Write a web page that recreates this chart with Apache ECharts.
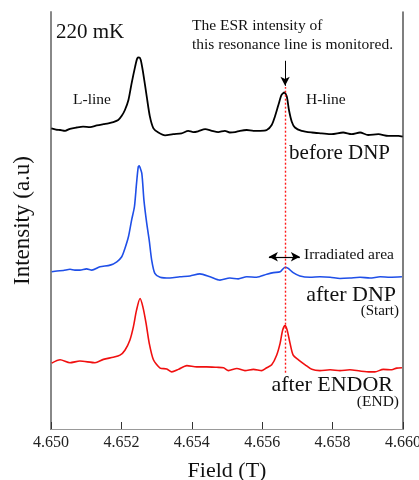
<!DOCTYPE html>
<html>
<head>
<meta charset="utf-8">
<script src="https://cdn.jsdelivr.net/npm/echarts@6/dist/echarts.min.js"></script>
<style>
  html, body { margin: 0; padding: 0; background: #fff; }
  #chart { width: 419px; height: 480px; }
</style>
</head>
<body>
<div id="chart"></div>
<script>
// field in tesla, intensity in arbitrary units
const blackField = [4.65001, 4.65014, 4.65026, 4.65040, 4.65054, 4.65073, 4.65091, 4.65111, 4.65130, 4.65149,
  4.65163, 4.65177, 4.65191, 4.65201, 4.65210, 4.65220, 4.65229, 4.65239, 4.65245, 4.65250,
  4.65255, 4.65262, 4.65272, 4.65281, 4.65291, 4.65305, 4.65324, 4.65347, 4.65371, 4.65390,
  4.65404, 4.65418, 4.65438, 4.65457, 4.65475, 4.65494, 4.65508, 4.65523, 4.65537, 4.65556,
  4.65575, 4.65594, 4.65613, 4.65627, 4.65636, 4.65646, 4.65655, 4.65663, 4.65670, 4.65676,
  4.65684, 4.65693, 4.65712, 4.65741, 4.65769, 4.65797, 4.65830, 4.65854, 4.65878, 4.65901,
  4.65930, 4.65958, 4.65987, 4.65999];
const blackInt = [72.1, 71.8, 71.7, 71.5, 72.0, 72.3, 72.5, 72.4, 72.8, 73.1,
  73.3, 73.6, 74.1, 75.1, 76.5, 78.9, 82.9, 86.9, 88.9, 89.1,
  88.5, 85.3, 79.7, 74.9, 72.1, 71.1, 70.4, 70.7, 70.9, 71.5,
  71.2, 71.4, 71.9, 71.5, 71.2, 71.5, 71.1, 71.2, 71.5, 71.7,
  71.5, 71.5, 71.7, 72.9, 74.9, 77.7, 80.1, 80.7, 79.7, 76.5,
  73.7, 72.3, 71.5, 71.1, 70.9, 70.7, 71.1, 70.7, 71.1, 70.5,
  70.7, 70.3, 70.3, 70.1];

const blueField = [4.65002, 4.65017, 4.65035, 4.65054, 4.65068, 4.65082, 4.65101, 4.65116, 4.65139, 4.65168,
  4.65187, 4.65201, 4.65210, 4.65220, 4.65229, 4.65237, 4.65243, 4.65248, 4.65251, 4.65253,
  4.65258, 4.65264, 4.65272, 4.65279, 4.65286, 4.65295, 4.65310, 4.65338, 4.65366, 4.65395,
  4.65423, 4.65452, 4.65480, 4.65508, 4.65532, 4.65556, 4.65584, 4.65613, 4.65632, 4.65651,
  4.65665, 4.65674, 4.65688, 4.65707, 4.65736, 4.65764, 4.65793, 4.65821, 4.65849, 4.65878,
  4.65906, 4.65935, 4.65963, 4.65997];
const blueInt = [37.7, 37.9, 38.0, 38.3, 38.1, 38.1, 38.4, 38.1, 38.9, 39.3,
  40.1, 41.3, 43.3, 46.1, 50.1, 53.3, 58.9, 62.9, 63.1, 63.1,
  61.3, 54.9, 49.3, 45.3, 40.5, 37.3, 36.4, 36.2, 36.5, 36.7,
  37.2, 36.5, 35.7, 36.2, 36.0, 36.5, 36.4, 37.1, 37.5, 37.7,
  38.8, 38.5, 37.5, 36.7, 36.4, 36.5, 36.4, 36.1, 36.2, 36.4,
  36.2, 36.5, 36.4, 36.5];

const redField = [4.65002, 4.65026, 4.65054, 4.65082, 4.65125, 4.65149, 4.65177, 4.65196, 4.65210, 4.65224,
  4.65234, 4.65243, 4.65253, 4.65261, 4.65270, 4.65279, 4.65291, 4.65310, 4.65329, 4.65343,
  4.65362, 4.65386, 4.65414, 4.65442, 4.65471, 4.65490, 4.65504, 4.65528, 4.65551, 4.65575,
  4.65599, 4.65613, 4.65627, 4.65641, 4.65651, 4.65658, 4.65665, 4.65671, 4.65679, 4.65688,
  4.65703, 4.65722, 4.65741, 4.65764, 4.65793, 4.65821, 4.65849, 4.65878, 4.65906, 4.65920,
  4.65944, 4.65968, 4.65982, 4.65997];
const redInt = [15.8, 16.6, 15.9, 16.3, 15.9, 16.7, 17.2, 17.7, 18.9, 21.3,
  24.5, 28.5, 31.3, 29.3, 25.4, 20.6, 16.6, 14.6, 14.4, 13.7,
  14.3, 15.2, 14.9, 14.9, 14.8, 14.7, 14.0, 14.5, 14.0, 14.3,
  14.0, 14.7, 15.4, 17.7, 20.6, 23.7, 24.8, 23.7, 20.6, 17.7,
  16.6, 15.4, 14.3, 14.0, 14.2, 14.0, 14.2, 13.9, 13.7, 13.7,
  14.3, 14.2, 14.6, 14.7];

// monitored H-line position and the irradiated window
const monitorField = 4.65665;
const monitorLine = [13.5, 82.0];
const monitorArrow = [88.3, 82.3];
const irradiated = [4.65619, 4.65707];
const irradiatedLevel = 41.3;

const serif = "'Liberation Serif', 'DejaVu Serif', serif";

function zip(xs, ys) {
  return xs.map((x, i) => [x, ys[i]]);
}

const chart = echarts.init(document.getElementById("chart"));

function trace(name, xs, ys, color, width) {
  return {
    name: name,
    type: "line",
    data: zip(xs, ys),
    showSymbol: false,
    smooth: 0.25,
    lineStyle: { color: color, width: width },
    silent: true
  };
}

function segment(p1, p2, color, type, symbols, width) {
  return {
    type: "line",
    data: [],
    silent: true,
    markLine: {
      silent: true,
      animation: false,
      symbol: symbols,
      symbolSize: [7, 9],
      label: { show: false },
      lineStyle: { color: color, opacity: 1, type: type, width: width },
      data: [[{ coord: p1 }, { coord: p2 }]]
    }
  };
}

function text(str, x, y, size, align) {
  return {
    type: "text",
    x: x,
    y: y,
    silent: true,
    style: {
      text: str,
      font: size + "px " + serif,
      fill: "#111",
      textAlign: align || "left",
      textVerticalAlign: "middle"
    }
  };
}

chart.setOption({
  animation: false,
  grid: { left: 51, top: 12, width: 352, height: 417, outerBoundsMode: "none" },
  xAxis: [{
    type: "value",
    min: 4.650,
    max: 4.660,
    interval: 0.002,
    name: "Field (T)",
    nameLocation: "middle",
    nameGap: 31,
    nameTextStyle: { fontFamily: serif, fontSize: 22, color: "#111" },
    axisLine: { lineStyle: { color: "#333", width: 1 } },
    axisTick: { inside: true, length: 7, lineStyle: { color: "#333" } },
    axisLabel: {
      margin: 6,
      fontFamily: serif,
      fontSize: 16,
      color: "#222",
      formatter: v => v.toFixed(3)
    },
    splitLine: { show: false }
  }, {
    type: "value",
    position: "top",
    min: 4.650,
    max: 4.660,
    axisLine: { lineStyle: { color: "#999", width: 1 } },
    axisTick: { show: false },
    axisLabel: { show: false },
    splitLine: { show: false }
  }],
  yAxis: [{
    type: "value",
    min: 0,
    max: 100,
    name: "Intensity (a.u)",
    nameLocation: "middle",
    nameGap: 17,
    nameTextStyle: { fontFamily: serif, fontSize: 23, color: "#111" },
    axisLine: { show: true, lineStyle: { color: "#888", width: 2 } },
    axisTick: { show: false },
    axisLabel: { show: false },
    splitLine: { show: false }
  }, {
    type: "value",
    position: "right",
    min: 0,
    max: 100,
    axisLine: { show: true, lineStyle: { color: "#555", width: 1.5 } },
    axisTick: { show: false },
    axisLabel: { show: false },
    splitLine: { show: false }
  }],
  series: [
    trace("before DNP", blackField, blackInt, "#000", 1.8),
    trace("after DNP", blueField, blueInt, "#1f4fe8", 1.6),
    trace("after ENDOR", redField, redInt, "#f01010", 1.6),
    segment([monitorField, monitorLine[0]], [monitorField, monitorLine[1]], "#ff1a1a", [2, 2], ["none", "none"], 1.4),
    segment([monitorField, monitorArrow[0]], [monitorField, monitorArrow[1]], "#000", "solid", ["none", "arrow"], 1),
    segment([irradiated[0], irradiatedLevel], [irradiated[1], irradiatedLevel], "#000", "solid", ["arrow", "arrow"], 1.2)
  ],
  graphic: [
    text("220 mK", 56, 32, 21),
    text("The ESR intensity of", 192, 25.5, 15.5),
    text("this resonance line is monitored.", 192, 44.5, 15.5),
    text("L-line", 73, 100, 15.5),
    text("H-line", 306, 100, 15.5),
    text("before DNP", 390, 153.5, 21, "right"),
    text("Irradiated area", 304, 255, 15.5),
    text("after DNP", 396, 295, 22, "right"),
    text("(Start)", 399, 311, 15, "right"),
    text("after ENDOR", 393, 385.5, 22, "right"),
    text("(END)", 399, 402, 15.5, "right")
  ]
});
</script>
</body>
</html>
